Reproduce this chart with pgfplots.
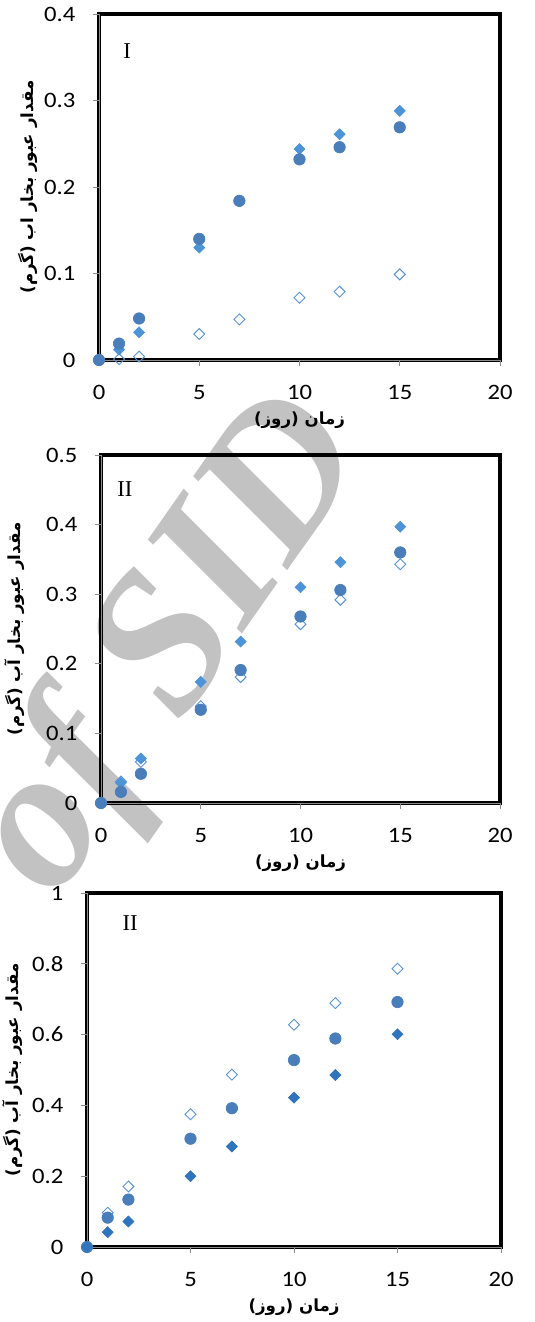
\documentclass[border=0pt]{standalone}
\usepackage{fontspec}
\setmainfont{Carlito}[FakeStretch=1.12]
\newfontfamily\arabicfont[Script=Arabic]{DejaVu Sans}
\newfontfamily\romanfont{Liberation Serif}
\newfontfamily\wmfont{Liberation Serif}[BoldItalicFont={Liberation Serif Bold Italic}]
\usepackage{pgfplots}
\pgfplotsset{compat=1.18}
\TeXXeTstate=1

\definecolor{circ}{HTML}{4A7EBB}
\definecolor{dlight}{HTML}{4C93D8}
\definecolor{ddark}{HTML}{2F75BE}
\definecolor{openc}{HTML}{5A92DA}

\pgfplotsset{
  panel/.style={
    scale only axis,
    anchor=south west,
    xmin=0, xmax=20, ymin=0,
    xtick={0,5,10,15,20},
    axis x line*=bottom, axis y line*=left,
    axis line style={black!45, line width=0.6pt, -},
    tick align=outside,
    major tick length=4.5pt,
    tick style={black!45, line width=0.6pt},
    ticklabel style={font=\fontsize{16.5}{18}\selectfont},
    /pgf/number format/assume math mode=true,
    /pgf/number format/fixed,
    yticklabel style={anchor=east, inner sep=0pt, xshift=-13pt},
    xticklabel style={anchor=north, inner sep=0pt, yshift=-14pt},
    every axis x label/.style={at={(axis description cs:0.5,0)}, anchor=center, yshift=-45pt, font=\arabicfont\bfseries\fontsize{12.5}{14}\selectfont},
    every axis y label/.style={at={(axis description cs:0,0.5)}, rotate=90, anchor=center, font=\arabicfont\bfseries\fontsize{12.5}{14}\selectfont},
    xlabel={\beginR زمان (روز)\endR},
    clip=false,
  },
  pcirc/.style={only marks, mark=*, mark size=4.3pt, mark options={draw=circ, fill=circ, line width=0.5pt}},
  pdiam/.style={only marks, mark=square*, mark size=2.9pt, mark options={rotate=45, draw=#1, fill=#1, line width=0.5pt}},
  popen/.style={only marks, mark=square, mark size=2.9pt, mark options={rotate=45, draw=openc, fill=white, line width=0.7pt}},
}

\begin{document}
\begin{tikzpicture}
\useasboundingbox (0,0) rectangle (401.25pt,-991.5pt);
\node[rotate=55, text=black!24, font=\wmfont\bfseries\itshape\fontsize{150}{150}\selectfont] at (130pt,-486pt) {of SID};

\draw[line width=2.6pt, black] (74.25pt,-270pt) rectangle ++(300.75pt,259.5pt);
\draw[line width=2.6pt, black] (75.75pt,-602.25pt) rectangle ++(299.25pt,261pt);
\draw[line width=2.6pt, black] (65.25pt,-935.25pt) rectangle ++(310.5pt,265.5pt);

% Panel I
\begin{axis}[panel, at={(74.25pt,-270pt)}, width=300.75pt, height=259.5pt,
  ymax=0.4, ytick={0,0.1,0.2,0.3,0.4},
  ylabel={\beginR مقدار عبور بخار اب (گرم)\endR},
  ylabel style={yshift=53.6pt}]
\addplot[popen] coordinates {(0,0) (1,0.001) (2,0.004) (5,0.030) (7,0.047) (10,0.072) (12,0.079) (15,0.099)};
\addplot[pdiam=dlight] coordinates {(0,0) (1,0.012) (2,0.032) (5,0.130) (7,0.184) (10,0.244) (12,0.261) (15,0.288)};
\addplot[pcirc] coordinates {(0,0) (1,0.019) (2,0.048) (5,0.140) (7,0.184) (10,0.232) (12,0.246) (15,0.269)};
\node[font=\romanfont\fontsize{17}{17}\selectfont] at (rel axis cs:0.07,0.893) {I};
\end{axis}

% Panel II
\begin{axis}[panel, at={(75.75pt,-602.25pt)}, width=299.25pt, height=261pt,
  ymax=0.5, ytick={0,0.1,0.2,0.3,0.4,0.5},
  ylabel={\beginR مقدار عبور بخار آب (گرم)\endR},
  ylabel style={yshift=65pt}]
\addplot[popen] coordinates {(0,0) (1,0.031) (2,0.059) (5,0.139) (7,0.181) (10,0.257) (12,0.292) (15,0.343)};
\addplot[pdiam=dlight] coordinates {(0,0) (1,0.029) (2,0.064) (5,0.174) (7,0.232) (10,0.310) (12,0.346) (15,0.397)};
\addplot[pcirc] coordinates {(0,0) (1,0.016) (2,0.042) (5,0.134) (7,0.191) (10,0.268) (12,0.306) (15,0.360)};
\node[font=\romanfont\fontsize{17}{17}\selectfont] at (rel axis cs:0.06,0.902) {II};
\end{axis}

% Panel III
\begin{axis}[panel, at={(65.25pt,-935.25pt)}, width=310.5pt, height=265.5pt,
  ymax=1, ytick={0,0.2,0.4,0.6,0.8,1},
  ylabel={\beginR مقدار عبور بخار آب (گرم)\endR},
  ylabel style={yshift=56pt}]
\addplot[popen] coordinates {(0,0) (1,0.097) (2,0.171) (5,0.375) (7,0.487) (10,0.628) (12,0.689) (15,0.786)};
\addplot[pcirc] coordinates {(0,0) (1,0.083) (2,0.134) (5,0.306) (7,0.392) (10,0.528) (12,0.589) (15,0.692)};
\addplot[pdiam=ddark] coordinates {(0,0) (1,0.042) (2,0.072) (5,0.200) (7,0.284) (10,0.422) (12,0.486) (15,0.601)};
\node[font=\romanfont\fontsize{17}{17}\selectfont] at (rel axis cs:0.104,0.915) {II};
\end{axis}
\end{tikzpicture}
\end{document}
